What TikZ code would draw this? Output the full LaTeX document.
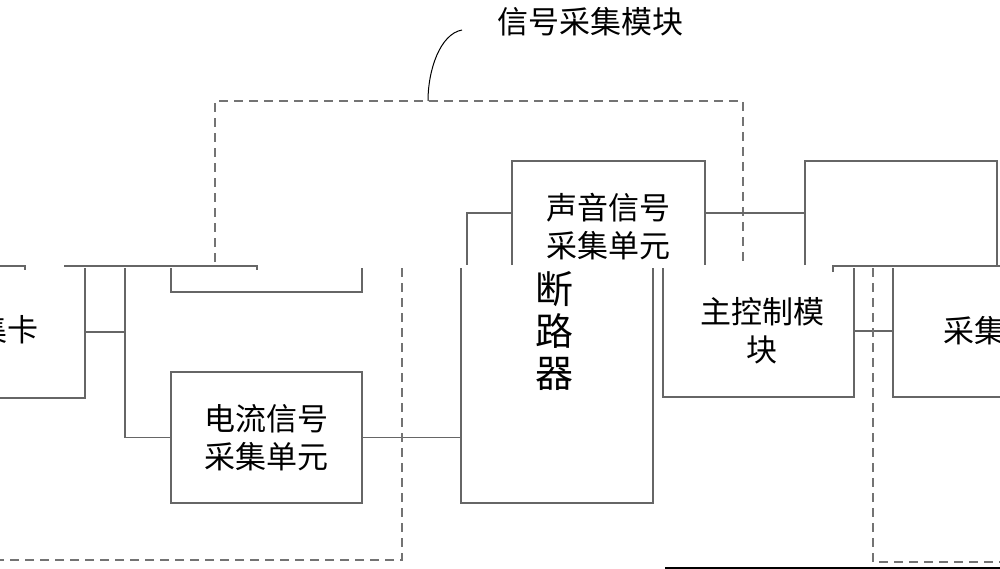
\documentclass[tikz,border=0pt]{standalone}
\usepackage{fontspec}
\newfontfamily\cjk{Noto Sans CJK SC}
\begin{document}
\begin{tikzpicture}[x=1pt, y=-1pt, line width=1.1pt, line join=miter,
  wire/.style={draw=black!60},
  frame/.style={draw=black!55, dash pattern=on 9pt off 6pt},
  lbl/.style={font=\cjk\fontsize{31}{38}\selectfont, align=center, inner sep=0pt}]
  \useasboundingbox (0,0) rectangle (1000,569);
  \clip (0,0) rectangle (1000,569);
  % upper half: module frame and leader
  \draw[frame] (215,262) -- (215,101) -- (743,101) -- (743,265);
  \node[lbl, anchor=west] (title) at (497,22) {信号采集模块};
  \coordinate (lead) at (462,30);
  \coordinate (frametop) at (428,101);
  \draw[line width=1pt] (lead) .. controls (440,34) and (428,70) .. (frametop);
  % sound unit and right box
  \draw[wire] (512,265) -- (512,161) -- (705,161) -- (705,265);
  \node[lbl] (sound) at (608,227) {声音信号\\采集单元};
  \coordinate (sound-w) at (512,213);
  \coordinate (sound-e) at (705,213);
  \draw[wire] (805,265) -- (805,161) -- (997,161) -- (997,265);
  \coordinate (rbox-w) at (805,213);
  \draw[wire] (sound-w) -- (467,213) -- (467,265);
  \draw[wire] (sound-e) -- (rbox-w);
  % lower half
  \draw[wire] (0,266) -- (25,266) -- (25,270);
  \draw[wire] (64,266) -- (257,266) -- (257,270);
  \draw[wire] (833,272) -- (833,266) -- (1000,266);
  % card
  \draw[wire] (85,268) -- (85,398) -- (0,398);
  \node[lbl, anchor=east] (card) at (39,330) {集卡};
  \coordinate (card-e) at (85,332);
  \coordinate (bus) at (125,332);
  \draw[wire] (card-e) -- (bus);
  \draw[wire] (171,268) -- (171,292) -- (362,292) -- (362,268);
  % current unit
  \node[wire, lbl, draw, minimum width=191pt, minimum height=131pt] (current) at (266.5,437.5) {电流信号\\采集单元};
  \draw[wire] (125,268) -- (bus) |- (current.west);
  % breaker
  \draw[wire] (461,268) -- (461,503) -- (653,503) -- (653,268);
  \node[lbl, font=\cjk\fontsize{38}{42}\selectfont] (breaker) at (554,331) {断\\路\\器};
  \coordinate (breaker-w) at (461,437.5);
  \draw[wire] (current.east) -- (breaker-w);
  % main control module
  \draw[wire] (663,268) -- (663,397) -- (854,397) -- (854,268);
  \node[lbl] (main) at (762,331) {主控制模\\块};
  \coordinate (main-e) at (854,331);
  \draw[wire] (893,268) -- (893,397) -- (1000,397);
  \node[lbl, anchor=west] (acq) at (943,331) {采集};
  \coordinate (acq-w) at (893,331);
  \draw[wire] (main-e) -- (acq-w);
  % dashed frames
  \draw[frame] (402,268) -- (402,560) -- (0,560);
  \draw[frame] (873,268) -- (873,562) -- (1000,562);
  \draw[line width=2pt] (665,568) -- (1000,568);
\end{tikzpicture}
\end{document}
